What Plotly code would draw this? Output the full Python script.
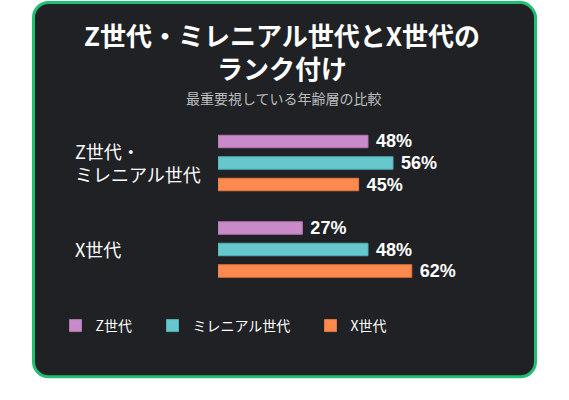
import plotly.graph_objects as go

# ---- data ----
categories = ["Z世代・ミレニアル世代", "X世代"]
category_labels = ["Z世代・<br>ミレニアル世代", "X世代"]
series_names = ["Z世代", "ミレニアル世代", "X世代"]
gen_z = [48, 27]
millennial = [56, 48]
gen_x = [45, 62]
title_text = "Z世代・ミレニアル世代とX世代の<br>ランク付け"
subtitle_text = "最重要視している年齢層の比較"

# ---- styles ----
W, H = 569, 400
def px(x):
    return x / W
def py(y):
    return 1 - y / H

colors = ["#C98AC9", "#66C7CC", "#FF8A4F"]
edge = ["#B276B2", "#52B0B5", "#E5763F"]
card_bg = "#1F2124"
card_border = "#1FBF74"
cjk = "Noto Sans CJK JP"

fig = go.Figure()
series_values = [gen_z, millennial, gen_x]
legend_ids = ["legend", "legend2", "legend3"]
for name, vals, c, e, lg in zip(series_names, series_values, colors, edge, legend_ids):
    fig.add_trace(go.Bar(
        name=name,
        x=vals,
        y=categories,
        orientation="h",
        marker=dict(color=c, line=dict(color=e, width=1)),
        texttemplate="\u00a0%{x}%",
        textposition="outside",
        constraintext="none",
        cliponaxis=False,
        outsidetextfont=dict(family="Liberation Sans", size=18, color="white", weight=700),
        hoverinfo="skip",
        legend=lg,
    ))

# rounded card
x0, x1 = px(33.5), px(535.5)
y0, y1 = py(376.8), py(2.5)
rx, ry = 15 / W, 15 / H
k = 0.448
path = (
    f"M {x0+rx},{y1} L {x1-rx},{y1} "
    f"C {x1-rx*k},{y1} {x1},{y1-ry*(1-k)} {x1},{y1-ry} "
    f"L {x1},{y0+ry} "
    f"C {x1},{y0+ry*k} {x1-rx*k},{y0} {x1-rx},{y0} "
    f"L {x0+rx},{y0} "
    f"C {x0+rx*k},{y0} {x0},{y0+ry*k} {x0},{y0+ry} "
    f"L {x0},{y1-ry} "
    f"C {x0},{y1-ry*k} {x0+rx*k},{y1} {x0+rx},{y1} Z"
)
fig.add_shape(type="path", path=path, xref="paper", yref="paper",
              fillcolor=card_bg, line=dict(color=card_border, width=3), layer="below")

annotations = []
for cat, lab in zip(categories, category_labels):
    annotations.append(dict(
        x=px(73), xref="paper", xanchor="left",
        y=cat, yref="y", yanchor="middle",
        text=lab, showarrow=False, align="left",
        font=dict(family=cjk, size=18, color="white"),
    ))
annotations.append(dict(
    x=px(284), xref="paper", xanchor="center",
    y=py(98.5), yref="paper", yanchor="middle",
    text=subtitle_text, showarrow=False,
    font=dict(family=cjk, size=14, color="#BDBDBD"),
))

legend_common = dict(orientation="h", xanchor="left", yanchor="middle",
                     y=py(326), bgcolor="rgba(0,0,0,0)", borderwidth=0,
                     font=dict(family=cjk, size=14, color="white"))

fig.update_layout(
    width=W, height=H,
    margin=dict(l=0, r=0, t=0, b=0),
    paper_bgcolor="white",
    plot_bgcolor="rgba(0,0,0,0)",
    barmode="group",
    bargap=0.254,
    bargroupgap=0.42,
    title=dict(text=title_text, x=px(282), xanchor="center", y=py(45.5), yanchor="middle",
               yref="container",
               font=dict(family=cjk, size=26, color="white", weight=700)),
    xaxis=dict(domain=[px(218), px(468)], range=[0, 80], visible=False),
    yaxis=dict(domain=[py(292.75), py(119.75)], type="category",
               categoryorder="array", categoryarray=categories,
               range=[1.5, -0.5], visible=False),
    annotations=annotations,
    showlegend=True,
    legend=dict(x=px(55.5), **legend_common),
    legend2=dict(x=px(152.5), **legend_common),
    legend3=dict(x=px(310.5), **legend_common),
)

fig.write_html("out.html",
               config={"displayModeBar": False},
               post_script="document.body.style.margin='0';document.body.style.overflow='hidden';")
